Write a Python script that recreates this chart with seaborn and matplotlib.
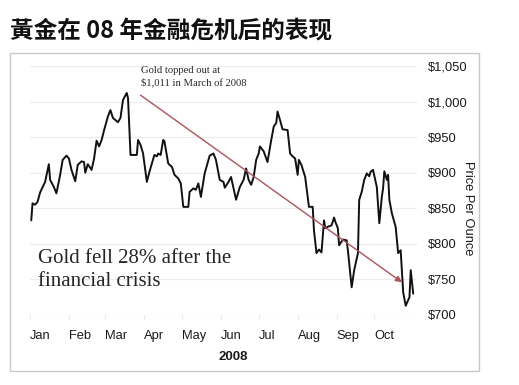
import matplotlib
matplotlib.use("Agg")
import matplotlib.pyplot as plt
from matplotlib.patches import Rectangle
from matplotlib.ticker import FuncFormatter
import pandas as pd
import seaborn as sns

# ---------------- data ----------------
dates = [
    "2008-01-02", "2008-01-03", "2008-01-05", "2008-01-07", "2008-01-09", "2008-01-13",
    "2008-01-16", "2008-01-17", "2008-01-20", "2008-01-22", "2008-01-25", "2008-01-27",
    "2008-01-30", "2008-02-01", "2008-02-03", "2008-02-06", "2008-02-08", "2008-02-11",
    "2008-02-13", "2008-02-14", "2008-02-16", "2008-02-19", "2008-02-21", "2008-02-23",
    "2008-02-25", "2008-02-27", "2008-02-29", "2008-03-03", "2008-03-05", "2008-03-07",
    "2008-03-11", "2008-03-13", "2008-03-15", "2008-03-17", "2008-03-18", "2008-03-19",
    "2008-03-21", "2008-03-26", "2008-03-27", "2008-03-29", "2008-03-31", "2008-04-03",
    "2008-04-05", "2008-04-07", "2008-04-09", "2008-04-11", "2008-04-12", "2008-04-14",
    "2008-04-16", "2008-04-17", "2008-04-20", "2008-04-23", "2008-04-25", "2008-04-28",
    "2008-04-30", "2008-05-02", "2008-05-06", "2008-05-07", "2008-05-10", "2008-05-12",
    "2008-05-14", "2008-05-16", "2008-05-19", "2008-05-23", "2008-05-26", "2008-05-28",
    "2008-05-31", "2008-06-03", "2008-06-04", "2008-06-07", "2008-06-09", "2008-06-13",
    "2008-06-16", "2008-06-19", "2008-06-21", "2008-06-23", "2008-06-25", "2008-06-27",
    "2008-06-29", "2008-07-01", "2008-07-02", "2008-07-05", "2008-07-08", "2008-07-11",
    "2008-07-13", "2008-07-15", "2008-07-16", "2008-07-18", "2008-07-20", "2008-07-24",
    "2008-07-26", "2008-07-28", "2008-07-30", "2008-08-01", "2008-08-02", "2008-08-04",
    "2008-08-07", "2008-08-08", "2008-08-10", "2008-08-13", "2008-08-14", "2008-08-16",
    "2008-08-18", "2008-08-20", "2008-08-22", "2008-08-23", "2008-08-25", "2008-08-28",
    "2008-08-30", "2008-08-31", "2008-09-02", "2008-09-03", "2008-09-06", "2008-09-09",
    "2008-09-10", "2008-09-13", "2008-09-15", "2008-09-18", "2008-09-19", "2008-09-21",
    "2008-09-23", "2008-09-25", "2008-09-27", "2008-09-28", "2008-09-30", "2008-10-03",
    "2008-10-05", "2008-10-07", "2008-10-08", "2008-10-09", "2008-10-11", "2008-10-12",
    "2008-10-13", "2008-10-15", "2008-10-18", "2008-10-20", "2008-10-22", "2008-10-24",
    "2008-10-26", "2008-10-29", "2008-10-30", "2008-11-01",
]
prices = [
    833, 857, 855, 859, 872, 887,
    912, 890, 880, 871, 897, 918,
    924, 920, 904, 888, 911, 916,
    915, 900, 912, 904, 920, 945,
    937, 946, 960, 979, 988, 977,
    971, 977, 1002, 1009, 1012, 1005,
    925, 925, 946, 939, 927, 887,
    901, 913, 925, 923, 927, 925,
    946, 944, 913, 908, 897, 892,
    885, 852, 852, 873, 878, 876,
    885, 866, 899, 924, 927, 918,
    890, 887, 879, 887, 894, 862,
    880, 890, 906, 890, 883, 894,
    918, 927, 937, 930, 915, 946,
    965, 970, 986, 974, 961, 960,
    927, 923, 920, 897, 918, 911,
    894, 880, 852, 852, 819, 787,
    792, 788, 833, 822, 824, 826,
    837, 831, 822, 798, 806, 805,
    791, 739, 763, 787, 862, 873,
    890, 899, 895, 901, 904, 880,
    829, 866, 878, 902, 890, 897,
    862, 843, 824, 787, 791, 732,
    713, 725, 763, 730,
]
month_labels = ["Jan", "Feb", "Mar", "Apr", "May", "Jun", "Jul", "Aug", "Sep", "Oct"]
y_ticks = [700, 750, 800, 850, 900, 950, 1000, 1050]

title = "黃金在 08 年金融危机后的表现"
year_label = "2008"
y_label = "Price Per Ounce"
note_top = "Gold topped out at\n$1,011 in March of 2008"
note_big = "Gold fell 28% after the\nfinancial crisis"
trend_start = ("2008-03-29", 1009)
trend_end = ("2008-10-23", 746)

# ---------------- figure ----------------
sns.set_theme(style="white")
plt.rcParams["font.family"] = ["Liberation Sans", "DejaVu Sans"]

fig = plt.figure(figsize=(5.19, 3.85), dpi=100)
fig.patch.set_facecolor("white")

# outer light-gray frame
fig.patches.append(Rectangle((10 / 519, 14 / 385), 469 / 519, 318 / 385,
                             transform=fig.transFigure, fill=False,
                             edgecolor="#c9c9c9", linewidth=1.0, zorder=0))

ax = fig.add_axes([30 / 519, 70 / 385, 387 / 519, 249 / 385])
ax.set_facecolor("white")

df = pd.DataFrame({"date": pd.to_datetime(dates), "price": prices})
sns.lineplot(data=df, x="date", y="price", ax=ax, color="#111111",
             linewidth=1.4, zorder=3)

ax.set_xlim(pd.Timestamp("2008-01-01"), pd.Timestamp("2008-11-04"))
ax.set_ylim(700, 1050)

for s in ax.spines.values():
    s.set_visible(False)

ax.yaxis.tick_right()
ax.set_yticks(y_ticks)
ax.yaxis.set_major_formatter(FuncFormatter(lambda v, p: f"${v:,.0f}"))
ax.tick_params(axis="y", length=0, pad=8, labelsize=9.3, labelcolor="#1a1a1a")
ax.grid(axis="y", color="#ececec", linewidth=0.9)
ax.grid(axis="x", visible=False)

month_ticks = pd.date_range("2008-01-01", periods=len(month_labels), freq="MS")
ax.set_xticks(month_ticks)
ax.set_xticklabels(month_labels, ha="left")
ax.tick_params(axis="x", length=3, width=0.8, color="#e4e4e4", pad=8,
               labelsize=9.3, labelcolor="#1a1a1a", bottom=True)
ax.set_xlabel("")
ax.set_ylabel("")

# trend arrow
ax.annotate("", xy=(pd.Timestamp(trend_end[0]), trend_end[1]),
            xytext=(pd.Timestamp(trend_start[0]), trend_start[1]),
            arrowprops=dict(arrowstyle="-|>", color="#b0525b", lw=1.0,
                            mutation_scale=9, shrinkA=0, shrinkB=0), zorder=4)

ax.text(pd.Timestamp("2008-03-29"), 1035, note_top, fontsize=7.7,
        family=["Liberation Serif", "DejaVu Serif"], color="#2a2a2a",
        va="center", ha="left", linespacing=1.35, clip_on=False)

ax.text(0.021, 0.18, note_big, transform=ax.transAxes, fontsize=15,
        family=["Liberation Serif", "DejaVu Serif"], color="#262626",
        va="center", ha="left", linespacing=1.32)

fig.text(468 / 519, (385 - 208) / 385, y_label, rotation=270, fontsize=9.3,
         ha="center", va="center", color="#1a1a1a")
fig.text(233 / 519, (385 - 357) / 385, year_label, fontsize=9.5,
         fontweight="bold", ha="center", va="center", color="#1a1a1a")

fig.text(10 / 519, (385 - 31.5) / 385, title, fontsize=17,
         family=["Noto Sans CJK SC", "DejaVu Sans"], fontweight="bold",
         ha="left", va="center", color="#111111")

fig.savefig("out.png", dpi=100, facecolor="white")
